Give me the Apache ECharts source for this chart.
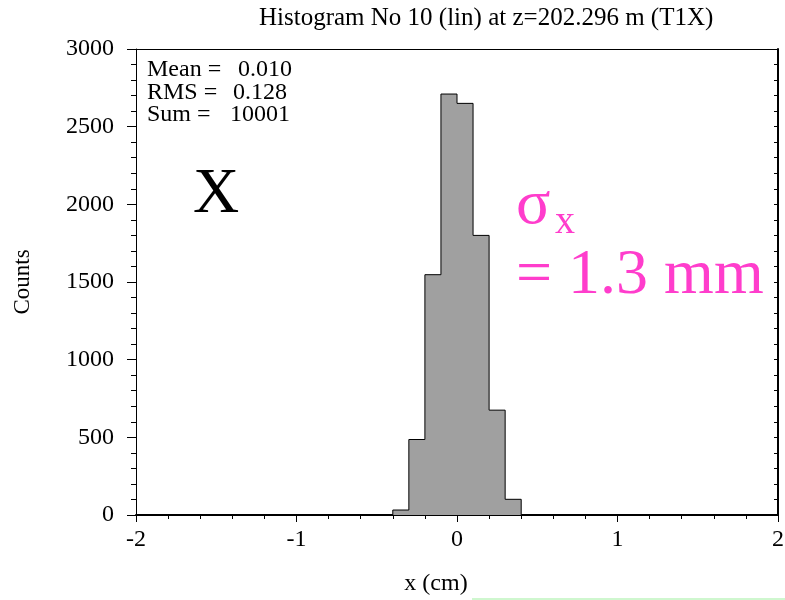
<!DOCTYPE html>
<html><head><meta charset="utf-8">
<script src="https://cdn.jsdelivr.net/npm/echarts@6/dist/echarts.min.js"></script>
<style>html,body{margin:0;padding:0;background:#fff}#c{width:785px;height:600px}</style>
</head><body><div id="c"></div>
<script>
const binEdges = [-0.4, -0.3, -0.2, -0.1, 0.0, 0.1, 0.2, 0.3, 0.4];
const counts = [32, 486, 1547, 2710, 2650, 1800, 675, 101];
const xTicks = [-2, -1, 0, 1, 2];
const yTicks = [0, 500, 1000, 1500, 2000, 2500, 3000];
const statLabels = ['Mean =', 'RMS =', 'Sum ='];
const statValues = ['0.010', '0.128', '10001'];
const titleText = 'Histogram No 10 (lin) at z=202.296 m (T1X)';

const F = 'Liberation Serif, Times New Roman, serif';
const chart = echarts.init(document.getElementById('c'));

const outline = [[binEdges[0], 0]];
counts.forEach((c, i) => { outline.push([binEdges[i], c]); outline.push([binEdges[i + 1], c]); });
outline.push([binEdges[binEdges.length - 1], 0]);

const G = {left: 136, right: 7, top: 49, bottom: 85, containLabel: false, outerBoundsMode: 'none'};
const statGraphics = [];
statLabels.forEach((l, i) => {
  statGraphics.push({type: 'text', left: 147, top: 58 + i * 22.5, style: {text: l, font: '24px ' + F, fill: '#000'}});
  statGraphics.push({type: 'text', left: [238, 233, 230][i], top: 58 + i * 22.5, style: {text: statValues[i], font: '24px ' + F, fill: '#000'}});
});

chart.setOption({
  animation: false,
  title: {text: titleText, left: 259, top: 6, padding: 0, textStyle: {fontFamily: F, fontWeight: 'normal', fontSize: 25, color: '#000'}},
  grid: G,
  xAxis: [{
    type: 'value', min: xTicks[0], max: xTicks[xTicks.length - 1], interval: 1, position: 'bottom',
    name: 'x (cm)', nameLocation: 'middle', nameGap: 57,
    nameTextStyle: {fontFamily: F, fontSize: 24, color: '#000', padding: [0, 42, 0, 0]},
    axisLine: {show: true, onZero: false, lineStyle: {color: '#000', width: 2}},
    axisTick: {show: true, inside: false, length: 7, lineStyle: {color: '#000'}},
    minorTick: {show: true, splitNumber: 5, length: 4, lineStyle: {color: '#000'}},
    axisLabel: {fontFamily: F, fontSize: 24, color: '#000', margin: 13},
    splitLine: {show: false}
  }, {
    type: 'value', min: -2, max: 2, position: 'top',
    axisLine: {show: true, onZero: false, lineStyle: {color: '#000', width: 1}},
    axisTick: {show: false}, axisLabel: {show: false}, splitLine: {show: false}
  }],
  yAxis: [{
    type: 'value', min: yTicks[0], max: yTicks[yTicks.length - 1], interval: 500, position: 'left',
    name: 'Counts', nameLocation: 'middle', nameGap: 102, nameRotate: 90,
    nameTextStyle: {fontFamily: F, fontSize: 23, color: '#000'},
    axisLine: {show: true, onZero: false, lineStyle: {color: '#000'}},
    axisTick: {show: true, inside: false, length: 9, lineStyle: {color: '#000'}},
    minorTick: {show: true, splitNumber: 5, length: 5, lineStyle: {color: '#000'}},
    axisLabel: {fontFamily: F, fontSize: 24, color: '#000', margin: 22, formatter: v => String(v)},
    splitLine: {show: false}
  }, {
    type: 'value', min: 0, max: 3000, interval: 100, position: 'right',
    axisLine: {show: true, onZero: false, lineStyle: {color: '#000', width: 2}},
    axisTick: {show: true, inside: true, length: 4, lineStyle: {color: '#000'}},
    axisLabel: {show: false}, splitLine: {show: false}
  }],
  series: [{
    type: 'line', xAxisIndex: 0, yAxisIndex: 0, data: outline, symbol: 'none',
    lineStyle: {color: '#000', width: 1},
    areaStyle: {color: '#a0a0a0', opacity: 1, origin: 'start'}
  }],
  graphic: statGraphics.concat([
    {type: 'text', left: 193, top: 163, style: {text: 'X', font: '64px ' + F, fill: '#000'}},
    {type: 'text', left: 516, top: 174, style: {text: 'σ', font: '64px ' + F, fill: '#ff3dcc'}},
    {type: 'text', left: 555, top: 202, style: {text: 'x', font: '40px ' + F, fill: '#ff3dcc'}},
    {type: 'text', left: 516, top: 244, style: {text: '= 1.3 mm', font: '64px ' + F, fill: '#ff3dcc'}},
    {type: 'line', shape: {x1: 472, y1: 599, x2: 785, y2: 599}, style: {stroke: '#bff5bf', lineWidth: 1.5}}
  ])
});
</script></body></html>
